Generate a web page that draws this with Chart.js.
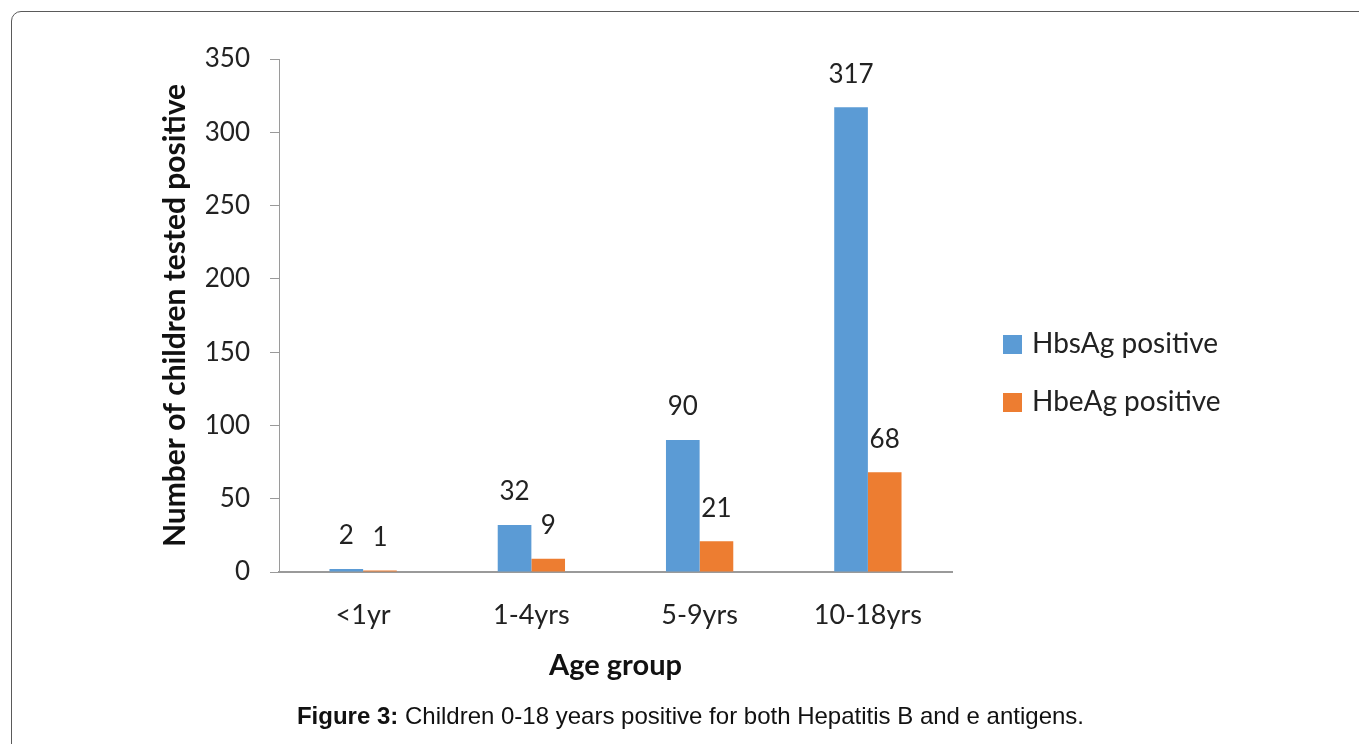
<!DOCTYPE html>
<html>
<head>
<meta charset="utf-8">
<script src="https://cdn.jsdelivr.net/npm/chart.js@4"></script>
<style>
  body { margin: 0; background: #fff; width: 1359px; height: 744px; overflow: hidden; position: relative; font-family: Lato, sans-serif; }
  .frame { position: absolute; left: 11px; top: 11px; width: 1400px; height: 800px; border: 1.5px solid #5a5a5a; border-radius: 10px; }
  .graphbox { position: absolute; left: 0; top: 0; width: 1359px; height: 744px; }
  .legend { position: absolute; left: 1003px; top: 325px; font-family: Lato, sans-serif; font-size: 28px; color: #222; }
  .legend div { height: 58px; display: flex; align-items: flex-start; }
  .legend span.box { display: inline-block; width: 19px; height: 19px; margin-top: 10px; margin-right: 10px; }
  .caption { position: absolute; left: 0; width: 1381px; top: 702px; text-align: center; font-family: "Liberation Sans", Arial, sans-serif; font-size: 24px; color: #111; }
</style>
</head>
<body>
<div class="frame"></div>
<div class="graphbox"><canvas id="chart" width="1359" height="744"></canvas></div>
<div class="legend" id="legend"></div>
<div class="caption"><b>Figure 3:</b> Children 0-18 years positive for both Hepatitis B and e antigens.</div>
<script>
const ageGroups = ["<1yr", "1-4yrs", "5-9yrs", "10-18yrs"];
const hbsAg = [2, 32, 90, 317];
const hbeAg = [1, 9, 21, 68];
const seriesNames = ["HbsAg positive", "HbeAg positive"];
const seriesColors = ["#5B9BD5", "#ED7D31"];

const barLabels = {
    id: "barLabels",
    afterDatasetsDraw(chart) {
        const ctx = chart.ctx;
        ctx.save();
        ctx.font = "26px Lato";
        ctx.fillStyle = "#222";
        ctx.textAlign = "center";
        ctx.textBaseline = "middle";
        chart.data.datasets.forEach((ds, i) => {
            chart.getDatasetMeta(i).data.forEach((bar, j) => {
                ctx.fillText(ds.data[j], bar.x, bar.y - 33);
            });
        });
        ctx.restore();
    }
};

const chart = new Chart(document.getElementById("chart").getContext("2d"), {
    type: "bar",
    data: {
        labels: ageGroups,
        datasets: [
            { label: seriesNames[0], data: hbsAg, backgroundColor: seriesColors[0] },
            { label: seriesNames[1], data: hbeAg, backgroundColor: seriesColors[1] }
        ]
    },
    options: {
        responsive: false,
        animation: false,
        layout: { padding: { left: 0, top: 59, right: 407, bottom: 0 } },
        datasets: { bar: { categoryPercentage: 0.4, barPercentage: 1.0 } },
        plugins: { legend: { display: false }, tooltip: { enabled: false } },
        scales: {
            x: {
                grid: { display: false },
                border: { color: "#9a9a9a", width: 2 },
                ticks: { color: "#222", font: { family: "Lato", size: 27 }, padding: 19 },
                title: { display: true, text: "Age group", color: "#111",
                    font: { family: "Lato", size: 29, weight: "bold" }, padding: { top: 0, bottom: 61 } },
                afterFit(scale) { scale.height = 172; }
            },
            y: {
                min: 0, max: 350,
                ticks: { stepSize: 50, color: "#222", font: { family: "Lato", size: 26 }, padding: 20 },
                grid: { drawOnChartArea: false, color: "#9a9a9a", tickLength: 9 },
                border: { color: "#9a9a9a", width: 1 },
                title: { display: true, text: "Number of children tested positive", color: "#111",
                    font: { family: "Lato", size: 30, weight: "bold" }, padding: { top: 157, bottom: 0 } },
                afterFit(scale) { scale.width = 279; }
            }
        }
    },
    plugins: [barLabels]
});

const legend = document.getElementById("legend");
chart.data.datasets.forEach(ds => {
    const row = document.createElement("div");
    row.innerHTML = `<span class="box" style="background:${ds.backgroundColor}"></span><span>${ds.label}</span>`;
    legend.appendChild(row);
});
</script>
</body>
</html>
